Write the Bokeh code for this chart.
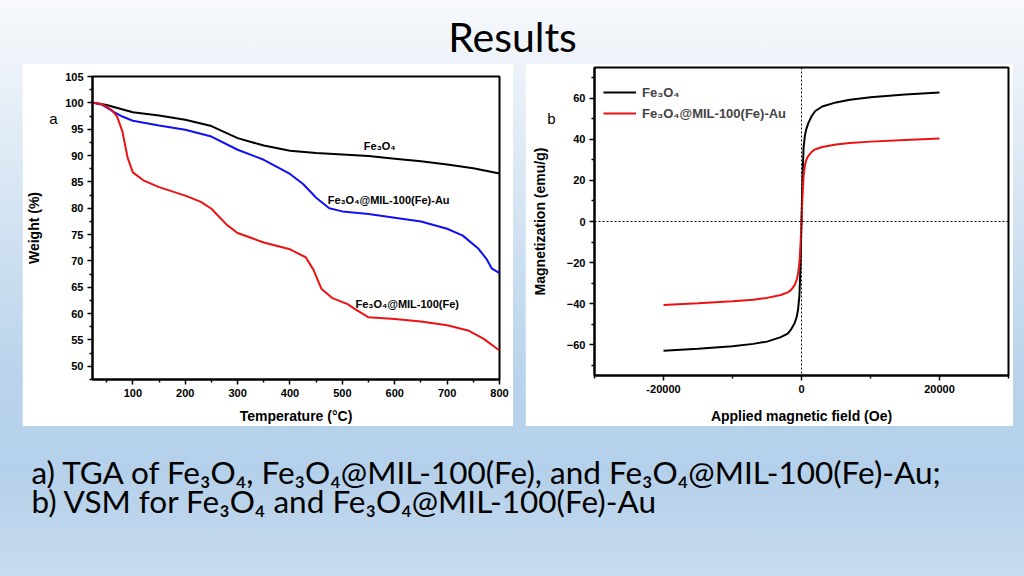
from bokeh.plotting import figure
from bokeh.layouts import column, row
from bokeh.models import Spacer, FixedTicker, Span, Legend, LegendItem, LinearAxis
from bokeh.embed import file_html
from bokeh.resources import INLINE
from bokeh.core.properties import value

# ---------------- data ----------------
title_text = "Results"
caption_lines = [
    "a)  TGA of Fe\u2083O\u2084, Fe\u2083O\u2084@MIL-100(Fe), and Fe\u2083O\u2084@MIL-100(Fe)-Au;",
    "b) VSM for Fe\u2083O\u2084 and Fe\u2083O\u2084@MIL-100(Fe)-Au",
]

# (a) TGA
tga_fe3o4_t = [25, 50, 100, 150, 200, 250, 300, 350, 400, 450, 500, 550, 600, 650, 700, 750, 800]
tga_fe3o4_w = [100, 99.6, 98.2, 97.6, 96.8, 95.6, 93.3, 91.9, 90.9, 90.5, 90.2, 89.9, 89.4, 88.9, 88.3, 87.6, 86.6]

tga_au_t = [25, 40, 60, 80, 100, 150, 200, 250, 300, 350, 400, 425, 450, 475, 500, 550, 600, 650, 700, 730, 760, 775, 785, 800]
tga_au_w = [100, 99.7, 98.5, 97.4, 96.6, 95.7, 94.9, 93.6, 91.1, 89.2, 86.5, 84.6, 82.0, 80.0, 79.4, 78.9, 78.2, 77.5, 76.1, 74.8, 72.3, 70.4, 68.6, 67.7]

tga_mil_t = [25, 40, 50, 60, 70, 80, 90, 100, 120, 150, 200, 230, 250, 280, 300, 350, 400, 430, 445, 460, 480, 510, 525, 550, 600, 650, 700, 740, 770, 800]
tga_mil_w = [100, 99.8, 99.3, 98.6, 97.4, 94.6, 89.6, 86.8, 85.3, 84.0, 82.4, 81.2, 79.9, 76.8, 75.3, 73.5, 72.2, 70.7, 68.3, 64.7, 63.0, 61.8, 60.8, 59.3, 59.0, 58.5, 57.8, 56.8, 55.2, 53.0]

tga_labels = ["Fe\u2083O\u2084", "Fe\u2083O\u2084@MIL-100(Fe)-Au", "Fe\u2083O\u2084@MIL-100(Fe)"]
tga_label_x = [541, 472, 525]
tga_label_y = [91.9, 81.5, 61.8]

tga_x_ticks = [100, 200, 300, 400, 500, 600, 700, 800]
tga_x_minor = [50, 150, 250, 350, 450, 550, 650, 750]
tga_y_ticks = [50, 55, 60, 65, 70, 75, 80, 85, 90, 95, 100, 105]
tga_y_minor = [47.5, 52.5, 57.5, 62.5, 67.5, 72.5, 77.5, 82.5, 87.5, 92.5, 97.5, 102.5]
panel_a_tag, panel_a_tag_y = "a", 97

# (b) VSM
vsm_fe3o4_h = [-20000, -15000, -10000, -7000, -5000, -3000, -2000, -1500, -1000, -700, -500, -300, -150, 0,
               150, 300, 500, 700, 1000, 1500, 2000, 3000, 5000, 7000, 10000, 15000, 20000]
vsm_fe3o4_m = [-62.9, -62.0, -60.8, -59.6, -58.5, -56.3, -54.6, -52.5, -49.5, -46.5, -43.0, -36.0, -22.0, 0,
               22.0, 36.0, 42.0, 45.0, 48.0, 51.5, 53.8, 56.0, 58.0, 59.3, 60.5, 61.8, 62.8]

vsm_au_h = [-20000, -15000, -10000, -7000, -5000, -3000, -2000, -1500, -1000, -700, -500, -300, -150, 0,
            150, 300, 500, 700, 1000, 1500, 2000, 3000, 5000, 7000, 10000, 15000, 20000]
vsm_au_m = [-40.7, -39.8, -38.8, -38.1, -37.2, -35.8, -34.5, -33.3, -31.0, -28.5, -25.5, -20.0, -12.0, 0,
            13.0, 22.0, 27.5, 30.0, 32.0, 34.0, 35.2, 36.3, 37.5, 38.2, 38.9, 39.7, 40.4]

vsm_names = ["Fe\u2083O\u2084", "Fe\u2083O\u2084@MIL-100(Fe)-Au"]
vsm_x_ticks = [-20000, 0, 20000]
vsm_x_labels = ["-20000", "0", "20000"]
vsm_x_minor = [-30000, -10000, 10000, 30000]
vsm_y_ticks = [-60, -40, -20, 0, 20, 40, 60]
vsm_y_minor = [-70, -50, -30, -10, 10, 30, 50, 70]
panel_b_tag, panel_b_tag_y = "b", 50

# ---------------- styling helpers ----------------
CHART_FONT = "Liberation Sans"
SLIDE_FONT = "Lato"


def style_axis(ax):
    ax.axis_line_width = 2
    ax.axis_line_color = "black"
    ax.major_tick_out = 5
    ax.major_tick_in = 0
    ax.minor_tick_out = 3
    ax.minor_tick_in = 0
    ax.major_tick_line_width = 1.5
    ax.minor_tick_line_width = 1.5
    ax.major_label_text_font = CHART_FONT
    ax.major_label_text_font_style = "bold"
    ax.major_label_text_font_size = "11px"
    ax.major_label_text_color = "black"
    ax.major_label_standoff = 4
    ax.axis_label_text_font = CHART_FONT
    ax.axis_label_text_font_style = "bold"
    ax.axis_label_text_font_size = "14px"
    ax.axis_label_text_color = "black"


def style_chart(p):
    p.grid.visible = False
    p.outline_line_color = "black"
    p.outline_line_width = 2
    p.background_fill_color = "white"
    p.border_fill_color = "white"
    for ax in p.axis:
        style_axis(ax)


def add_left_stack(p, tag, tag_y, tag_standoff, label, label_standoff):
    # panel tag ("a"/"b") drawn as a tick label of a bare axis, then the axis title outside it
    tag_ax = LinearAxis(ticker=FixedTicker(ticks=[tag_y], minor_ticks=[]),
                        major_label_overrides={tag_y: tag})
    tag_ax.axis_line_color = None
    tag_ax.major_tick_line_color = None
    tag_ax.minor_tick_line_color = None
    tag_ax.major_tick_out = 0
    tag_ax.major_tick_in = 0
    tag_ax.minor_tick_out = 0
    tag_ax.minor_tick_in = 0
    tag_ax.major_label_standoff = tag_standoff
    tag_ax.major_label_text_font = CHART_FONT
    tag_ax.major_label_text_font_size = "15px"
    tag_ax.major_label_text_color = "black"
    p.add_layout(tag_ax, "left")

    lab_ax = LinearAxis(ticker=FixedTicker(ticks=[], minor_ticks=[]), axis_label=label)
    lab_ax.axis_line_color = None
    lab_ax.major_tick_out = 0
    lab_ax.major_tick_in = 0
    lab_ax.minor_tick_out = 0
    lab_ax.minor_tick_in = 0
    lab_ax.axis_label_standoff = label_standoff
    lab_ax.axis_label_text_font = CHART_FONT
    lab_ax.axis_label_text_font_style = "bold"
    lab_ax.axis_label_text_font_size = "14px"
    lab_ax.axis_label_text_color = "black"
    p.add_layout(lab_ax, "left")


def blank_fig(w, h):
    f = figure(width=w, height=h, x_range=(0, w), y_range=(0, h), output_backend="svg",
               toolbar_location=None, x_axis_location=None, y_axis_location=None,
               min_border=0, title=None)
    f.grid.visible = False
    f.outline_line_color = None
    f.background_fill_alpha = 0
    f.border_fill_alpha = 0
    return f


# ---------------- title ----------------
tp = blank_fig(1024, 63)
tp.text(x=[512], y=[27], text=[title_text], text_font=value(SLIDE_FONT), text_font_size="41px",
        text_align="center", text_baseline="middle", text_color="black")

# ---------------- chart a ----------------
pa = figure(width=491, height=363, x_range=(23, 800), y_range=(47.5, 105), output_backend="svg",
            toolbar_location=None, title=None, min_border_left=68, min_border_right=14,
            min_border_top=13, min_border_bottom=47, x_axis_label="Temperature (\u00b0C)")
style_chart(pa)
pa.xaxis.ticker = FixedTicker(ticks=tga_x_ticks, minor_ticks=tga_x_minor)
pa.yaxis.ticker = FixedTicker(ticks=tga_y_ticks, minor_ticks=tga_y_minor)
pa.xaxis.axis_label_standoff = 8
add_left_stack(pa, panel_a_tag, panel_a_tag_y, 5, "Weight (%)", 5)
pa.line(tga_fe3o4_t, tga_fe3o4_w, line_color="black", line_width=2)
pa.line(tga_au_t, tga_au_w, line_color="#1010f0", line_width=2)
pa.line(tga_mil_t, tga_mil_w, line_color="#ee1111", line_width=2)
pa.text(x=tga_label_x, y=tga_label_y, text=tga_labels, text_font=value(CHART_FONT),
        text_font_style="bold", text_font_size="11px", text_baseline="middle", text_align="left",
        text_color="black")

# ---------------- chart b ----------------
pb = figure(width=488, height=363, x_range=(-30000, 30000), y_range=(-75, 75), output_backend="svg",
            toolbar_location=None, title=None, min_border_left=69, min_border_right=5,
            min_border_top=4, min_border_bottom=51, x_axis_label="Applied magnetic field (Oe)")
style_chart(pb)
pb.xaxis.ticker = FixedTicker(ticks=vsm_x_ticks, minor_ticks=vsm_x_minor)
pb.xaxis.major_label_overrides = {t: s for t, s in zip(vsm_x_ticks, vsm_x_labels)}
pb.yaxis.ticker = FixedTicker(ticks=vsm_y_ticks, minor_ticks=vsm_y_minor)
pb.xaxis.axis_label_standoff = 12
add_left_stack(pb, panel_b_tag, panel_b_tag_y, 8, "Magnetization (emu/g)", -3)
pb.add_layout(Span(location=0, dimension="height", line_color="black", line_width=1, line_dash="2 2"))
pb.add_layout(Span(location=0, dimension="width", line_color="black", line_width=1, line_dash="2 2"))
rb1 = pb.line(vsm_fe3o4_h, vsm_fe3o4_m, line_color="black", line_width=2)
rb2 = pb.line(vsm_au_h, vsm_au_m, line_color="#ee1111", line_width=2)
leg = Legend(items=[LegendItem(label=vsm_names[0], renderers=[rb1]),
                    LegendItem(label=vsm_names[1], renderers=[rb2])],
             location=(9, 252), padding=0, margin=0, spacing=1, glyph_width=33, glyph_height=20,
             label_height=20, label_standoff=6, background_fill_alpha=0, border_line_color=None,
             label_text_font=CHART_FONT, label_text_font_style="bold", label_text_font_size="13px")
pb.add_layout(leg)

# ---------------- caption ----------------
cp = blank_fig(1024, 150)
cp.text(x=[31, 31], y=[104.5, 76], text=caption_lines, text_font=value(SLIDE_FONT),
        text_font_size="31.5px", text_align="left", text_baseline="middle", text_color="black")

# each chart wrapped in its own column so the row does not align their frames
layout = column(
    tp,
    row(Spacer(width=22, height=363), column(pa, width=491, height=363),
        Spacer(width=12, height=363), column(pb, width=488, height=363),
        Spacer(width=11, height=363)),
    cp,
    width=1024, height=576,
    styles={"background": "linear-gradient(to bottom, #f7f9fc 0%, #eef3f9 10%, #b8d3eb 66%, "
                          "#b5d0ea 82%, #c6dbef 100%)"},
)

open("out.html", "w").write(file_html(layout, INLINE))
